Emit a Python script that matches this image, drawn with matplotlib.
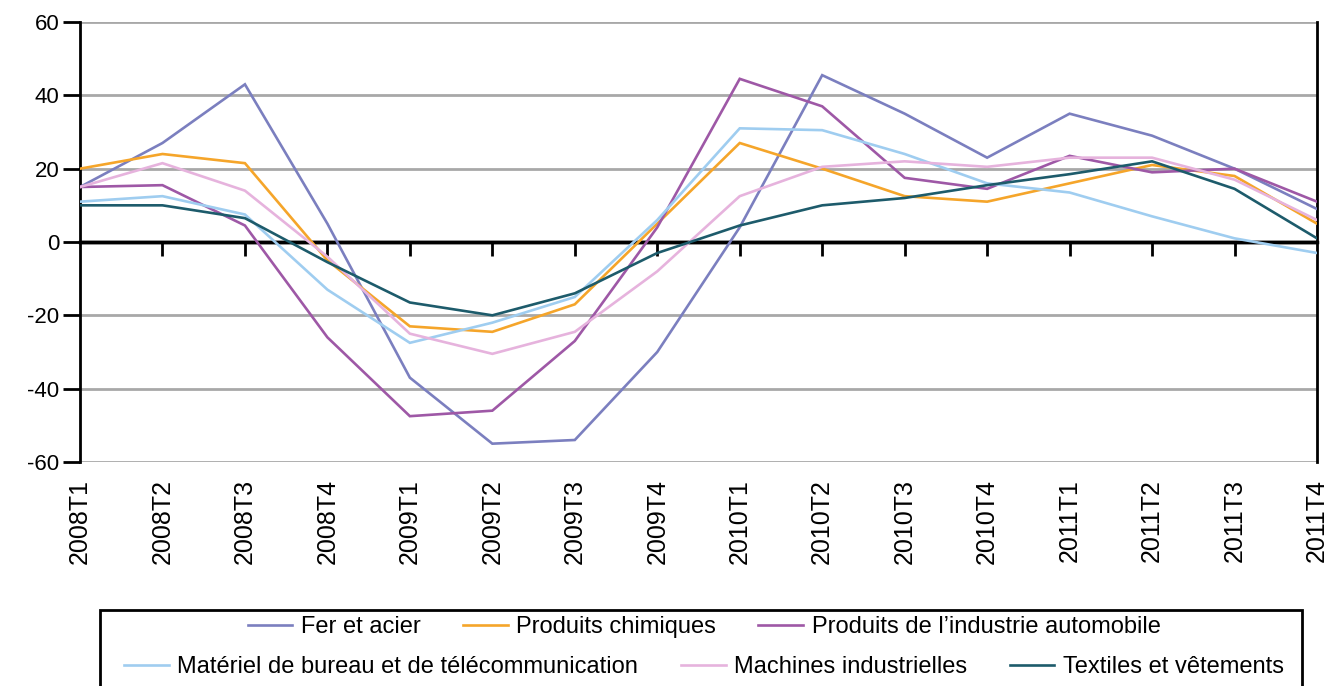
import matplotlib
matplotlib.use("Agg")
import matplotlib.pyplot as plt
from matplotlib.patches import Rectangle

plt.rcParams['font.family'] = ['Liberation Sans', 'DejaVu Sans']
plt.rcParams['axes.unicode_minus'] = False

periods = ['2008T1', '2008T2', '2008T3', '2008T4', '2009T1', '2009T2', '2009T3', '2009T4',
           '2010T1', '2010T2', '2010T3', '2010T4', '2011T1', '2011T2', '2011T3', '2011T4']

fer_acier = [15, 27, 43, 5, -37, -55, -54, -30, 4, 45.5, 35, 23, 35, 29, 20, 9]
chimiques = [20, 24, 21.5, -5, -23, -24.5, -17, 5, 27, 20, 12.5, 11, 16, 21, 18, 5]
automobile = [15, 15.5, 4.5, -26, -47.5, -46, -27, 4, 44.5, 37, 17.5, 14.5, 23.5, 19, 20, 11]
bureau_telecom = [11, 12.5, 7.5, -13, -27.5, -22, -15, 6, 31, 30.5, 24, 16, 13.5, 7, 1, -3]
machines = [15, 21.5, 14, -4, -25, -30.5, -24.5, -8, 12.5, 20.5, 22, 20.5, 23, 23, 17, 6]
textiles = [10, 10, 6.5, -5.5, -16.5, -20, -14, -3, 4.5, 10, 12, 15.5, 18.5, 22, 14.5, 1]

labels = ['Fer et acier', 'Produits chimiques', 'Produits de l\u2019industrie automobile',
          'Mat\u00e9riel de bureau et de t\u00e9l\u00e9communication', 'Machines industrielles',
          'Textiles et v\u00eatements']
series = [fer_acier, chimiques, automobile, bureau_telecom, machines, textiles]
colors = ['#7b7fbf', '#f5a52a', '#9e58a6', '#9fcdf0', '#e6b3dd', '#1d5b6b']

W, H = 1332, 686
fig = plt.figure(figsize=(W / 100, H / 100), dpi=100)
ax = fig.add_axes([80 / W, 1 - 462 / H, (1317 - 80) / W, 440 / H])

x = list(range(len(periods)))
handles = []
for vals, lab, col in zip(series, labels, colors):
    h, = ax.plot(x, vals, color=col, lw=1.9, label=lab, zorder=3, solid_joinstyle='miter')
    handles.append(h)

ax.set_xlim(0, len(periods) - 1)
ax.set_ylim(-60, 60)
ax.set_yticks(range(-60, 61, 20))
ax.yaxis.grid(True, color='#a8a8a8', lw=2)
ax.set_axisbelow(True)
for s in ['top', 'bottom']:
    ax.spines[s].set_visible(False)
for s in ['left', 'right']:
    ax.spines[s].set_color('black')
    ax.spines[s].set_linewidth(2)
ax.tick_params(axis='y', length=12, width=2, direction='out', labelsize=16, pad=3)
ax.set_xticks(x)
ax.set_xticklabels(periods, rotation=90, fontsize=18)
ax.tick_params(axis='x', length=0, pad=12)

ax.axhline(0, color='black', lw=2.5, zorder=2.5)
sec = ax.secondary_xaxis(0, transform=ax.transData)
sec.set_xticks(x[1:-1])
sec.tick_params(axis='x', length=10, width=2, direction='out', color='black',
                labelbottom=False, labeltop=False)
for s in sec.spines.values():
    s.set_linewidth(2.5)
    s.set_color('black')

leg_kw = dict(loc='center', ncol=3, frameon=False, fontsize=17, handlelength=1.9,
              handletextpad=0.35, columnspacing=1.8)
fig.legend(handles[:3], labels[:3], bbox_to_anchor=(704 / W, 1 - 627 / H), **leg_kw)
fig.legend(handles[3:], labels[3:], bbox_to_anchor=(704 / W, 1 - 667 / H), **leg_kw)
fig.patches.append(Rectangle((100 / W, -0.05), 1202 / W, (H - 610) / H + 0.05,
                             transform=fig.transFigure, fill=False, ec='black', lw=2))

fig.savefig('out.png', dpi=100, facecolor='white')
